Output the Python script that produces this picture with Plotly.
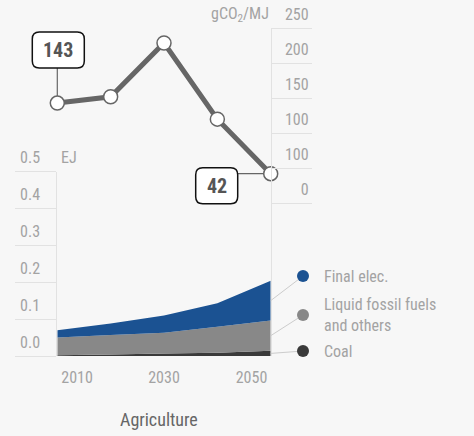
import plotly.graph_objects as go

# ---- data ----
years = [2010, 2020, 2030, 2040, 2050]
intensity = [143, 152, 229, 120, 42]          # gCO2/MJ
coal = [0.002, 0.004, 0.007, 0.009, 0.014]     # EJ
liquid = [0.048, 0.053, 0.056, 0.070, 0.082]
elec = [0.020, 0.031, 0.047, 0.064, 0.108]
series_names = ["Coal", "Liquid fossil fuels<br>and others", "Final elec."]
series_colors = ["#3a3a3a", "#888888", "#1b5292"]

ej_ticks = [0, 0.1, 0.2, 0.3, 0.4, 0.5]
ej_labels = ["0.0", "0.1", "0.2", "0.3", "0.4", "0.5"]
co2_ticks = [0, 50, 100, 150, 200, 250]
co2_labels = ["\u2007\u20070", "100", "100", "150", "200", "250"]
x_tickvals = [2013.7, 2030, 2046.4]
x_ticklabels = ["2010", "2030", "2050"]

W, H = 474, 436
FONT = "Roboto Condensed, Liberation Sans Narrow, Roboto, sans-serif"
BG = "#f7f7f7"
GRID = "#e2e2e2"
TICKC = "#a3a3a3"

# pixel layout
X0, X1 = 57.3, 270.7
B_Y0, B_Y1 = 356.0, 171.5   # bottom chart: 0 and 0.5
T_Y0, T_Y1 = 203.0, 28.3    # top chart: 0 and 250
XR = (2010, 2050)


def px_x(v):
    return X0 + (v - XR[0]) / (XR[1] - XR[0]) * (X1 - X0)


def px_top(v):
    return T_Y0 - v / 250 * (T_Y0 - T_Y1)


def px_bot(v):
    return B_Y0 - v / 0.5 * (B_Y0 - B_Y1)


def px(x, y):
    return x / W, 1 - y / H


fig = go.Figure()

# stacked areas
for vals, name, col in zip([coal, liquid, elec], series_names, series_colors):
    fig.add_trace(go.Scatter(
        x=years, y=vals, name=name, stackgroup="e", mode="none",
        fillcolor=col, line=dict(width=0), xaxis="x", yaxis="y",
        showlegend=False, hoverinfo="skip"))

# intensity line
fig.add_trace(go.Scatter(
    x=years, y=intensity, mode="lines+markers", xaxis="x", yaxis="y2",
    line=dict(color="#666666", width=5),
    marker=dict(size=14, color="white", line=dict(color="#666666", width=1.5)),
    cliponaxis=False, showlegend=False))

fig.update_layout(
    width=W, height=H, margin=dict(l=0, r=0, t=0, b=0, autoexpand=False),
    paper_bgcolor=BG, plot_bgcolor="rgba(0,0,0,0)",
    font=dict(family=FONT, color=TICKC, size=16),
    xaxis=dict(domain=[X0 / W, X1 / W], range=list(XR), anchor="y",
               tickvals=x_tickvals, ticktext=x_ticklabels, showgrid=False,
               zeroline=False, showline=False, ticks="", automargin=False,
               tickfont=dict(size=16, color=TICKC), ticklabelstandoff=10),
    yaxis=dict(domain=[1 - B_Y0 / H, 1 - B_Y1 / H], range=[0, 0.5], anchor="x",
               tickvals=ej_ticks, ticktext=ej_labels, showgrid=False,
               zeroline=False, showline=True, linecolor=GRID, linewidth=1,
               mirror=True, ticks="outside", ticklen=41, tickcolor=GRID,
               tickwidth=1, ticklabelshift=-14, ticklabelstandoff=-28,
               automargin=False, tickfont=dict(size=16, color=TICKC)),
    yaxis2=dict(domain=[1 - T_Y0 / H, 1 - T_Y1 / H], range=[0, 250], anchor="x",
                side="right", tickvals=co2_ticks, ticktext=co2_labels,
                showgrid=False, zeroline=False, showline=True, linecolor=GRID,
                linewidth=1, ticks="outside", ticklen=40, tickcolor=GRID,
                tickwidth=1, ticklabelshift=-14, ticklabelstandoff=-30,
                automargin=False, tickfont=dict(size=16, color=TICKC)),
)


def rounded_rect(cx, cy, w, h, r):
    x0, x1 = (cx - w / 2) / W, (cx + w / 2) / W
    y0, y1 = 1 - (cy + h / 2) / H, 1 - (cy - h / 2) / H
    rx, ry = r / W, r / H
    return (f"M {x0+rx},{y0} L {x1-rx},{y0} Q {x1},{y0} {x1},{y0+ry} "
            f"L {x1},{y1-ry} Q {x1},{y1} {x1-rx},{y1} L {x0+rx},{y1} "
            f"Q {x0},{y1} {x0},{y1-ry} L {x0},{y0+ry} Q {x0},{y0} {x0+rx},{y0} Z")


# value callouts: (index, dx px, dy px (down), box w, box h)
callouts = [(0, 1, -53, 52, 36), (4, -54, 12, 42, 36)]
for idx, dx, dy, bw, bh in callouts:
    pxv, pyv = px_x(years[idx]), px_top(intensity[idx])
    cx, cy = pxv + dx, pyv + dy
    if abs(dy) > 20:
        lx0, ly0, lx1, ly1 = pxv, pyv, pxv, cy + bh / 2
    else:
        lx0, ly0, lx1, ly1 = pxv, pyv, cx + bw / 2, pyv
    a, b = px(lx0, ly0)
    c, d = px(lx1, ly1)
    fig.add_shape(type="line", xref="paper", yref="paper", x0=a, y0=b, x1=c,
                  y1=d, line=dict(color="#666666", width=1.2), layer="below")
    fig.add_shape(type="path", xref="paper", yref="paper",
                  path=rounded_rect(cx, cy, bw, bh, 7),
                  line=dict(color="#111111", width=1.5), fillcolor="white",
                  layer="above")
    ax_, ay_ = px(cx, cy)
    fig.add_annotation(x=ax_, y=ay_, xref="paper", yref="paper",
                       text=f"<b>{intensity[idx]}</b>", showarrow=False,
                       xanchor="center", yanchor="middle",
                       font=dict(size=20, color="#555555", family=FONT))

# axis unit labels
fig.add_annotation(x=X0 / W, y=1 - 157 / H, xref="paper", yref="paper",
                   text="EJ", showarrow=False, xanchor="left", yanchor="middle",
                   font=dict(size=16, color=TICKC), xshift=2)
fig.add_annotation(x=271 / W, y=1 - 15 / H, xref="paper", yref="paper",
                   text="gCO<sub>2</sub>/MJ", showarrow=False, xanchor="right",
                   yanchor="middle", font=dict(size=16, color=TICKC))

# category title
fig.add_annotation(x=159 / W, y=1 - 419 / H, xref="paper", yref="paper",
                   text="Agriculture", showarrow=False, xanchor="center",
                   yanchor="middle", font=dict(size=18, color="#666666"))

# legend with leader lines
lo = 0.0
legend_y_px = [351, 315, 276]
for vals, name, col, ly in zip([coal, liquid, elec], series_names,
                               series_colors, legend_y_px):
    mid = lo + vals[-1] / 2
    lo += vals[-1]
    a, b = px(X1, px_bot(mid))
    c, d = px(303, ly)
    fig.add_shape(type="line", xref="paper", yref="paper", x0=a, y0=b, x1=c,
                  y1=d, line=dict(color="#cccccc", width=1))
    fig.add_shape(type="circle", xref="paper", yref="paper",
                  x0=(303 - 6) / W, x1=(303 + 6) / W,
                  y0=1 - (ly + 6) / H, y1=1 - (ly - 6) / H,
                  fillcolor=col, line=dict(width=0))
    fig.add_annotation(x=322 / W, y=1 - ly / H, xref="paper", yref="paper",
                       text=name, showarrow=False, xanchor="left",
                       yanchor="middle", align="left",
                       font=dict(size=16, color=TICKC))

fig.write_html("out.html", config={"displayModeBar": False},
               post_script="document.body.style.margin='0px';")
